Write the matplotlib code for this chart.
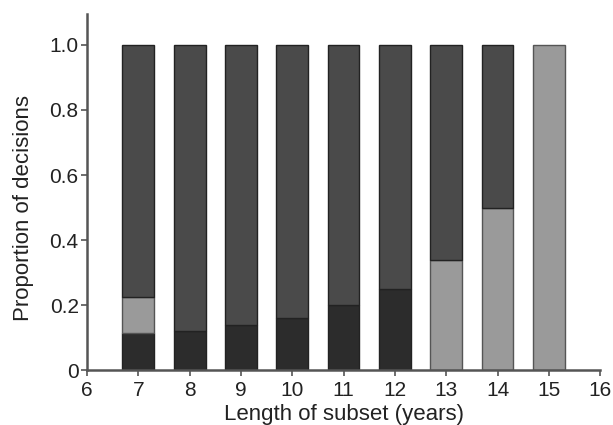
import matplotlib
matplotlib.use("Agg")
import matplotlib.pyplot as plt
import numpy as np

plt.rcParams['font.family'] = ['Liberation Sans', 'DejaVu Sans']

years = [7, 8, 9, 10, 11, 12, 13, 14, 15]
dark = [0.115, 0.12, 0.14, 0.16, 0.20, 0.25, 0.0, 0.0, 0.0]
light = [0.11, 0.0, 0.0, 0.0, 0.0, 0.0, 0.34, 0.50, 1.0]
medium = [1 - d - l for d, l in zip(dark, light)]

c_dark = "#2c2c2c"
c_light = "#9a9a9a"
c_med = "#4a4a4a"

fig = plt.figure(figsize=(6.13, 4.25), dpi=100)
ax = fig.add_axes([0.142, 0.129, 0.837, 0.838])

w = 0.62
x = np.array(years)
d = np.array(dark)
l = np.array(light)
m = np.array(medium)

def draw(vals, bottom, color, edge):
    mask = vals > 1e-9
    ax.bar(x[mask], vals[mask], width=w, bottom=bottom[mask], color=color,
           edgecolor=edge, linewidth=1.0)

draw(d, np.zeros_like(d), c_dark, "#222222")
draw(l, d, c_light, "#555555")
draw(m, d + l, c_med, "#222222")

ax.set_xlim(6, 16)
ax.set_ylim(0, 1.095)
ax.set_xticks(range(6, 17))
ax.set_yticks([0, 0.2, 0.4, 0.6, 0.8, 1.0])
ax.set_yticklabels(["0", "0.2", "0.4", "0.6", "0.8", "1.0"])
for s in ["top", "right"]:
    ax.spines[s].set_visible(False)
for s in ["left", "bottom"]:
    ax.spines[s].set_color("#555555")
    ax.spines[s].set_linewidth(1.8)
ax.tick_params(axis="both", direction="out", length=4, width=1.2, colors="#555555",
               labelsize=15, labelcolor="#222222")
ax.tick_params(axis="x", pad=4)
ax.tick_params(axis="y", pad=2)
ax.set_xlabel("Length of subset (years)", fontsize=16, color="#222222", labelpad=3)
ax.set_ylabel("Proportion of decisions", fontsize=16, color="#222222")
ax.yaxis.set_label_coords(-0.104, 0.5 / 1.095)

fig.savefig("out.png", dpi=100)
